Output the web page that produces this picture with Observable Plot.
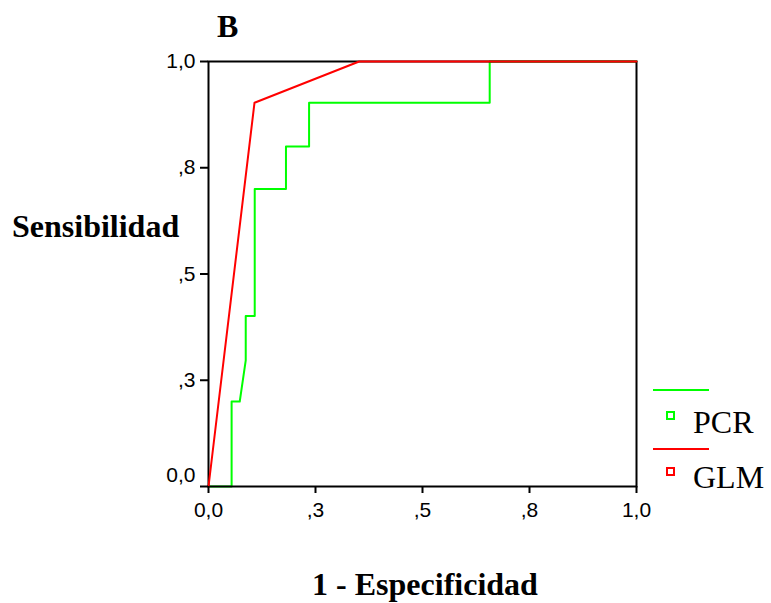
<!DOCTYPE html>
<html>
<head>
<meta charset="utf-8">
<script src="https://cdn.jsdelivr.net/npm/d3@7"></script>
<script src="https://cdn.jsdelivr.net/npm/@observablehq/plot@0.6"></script>
<style>
  html, body { margin: 0; padding: 0; background: #fff; }
  #chart { width: 771px; height: 603px; }
</style>
</head>
<body>
<div id="chart"></div>
<script>
// ROC data
const pcrFpr = [0, 0.054, 0.054, 0.073, 0.087, 0.087, 0.108, 0.108, 0.181, 0.181, 0.235, 0.235, 0.657, 0.657, 1];
const pcrTpr = [0, 0, 0.2, 0.2, 0.297, 0.401, 0.401, 0.70, 0.70, 0.80, 0.80, 0.903, 0.903, 1, 1];
const glmFpr = [0, 0.1075, 0.352, 1];
const glmTpr = [0, 0.903, 1, 1];

const seriesNames = ["PCR", "GLM"];
const seriesColors = ["#00ff00", "#ff0000"];

const tickValues = [0, 0.25, 0.5, 0.75, 1];
const tickLabels = ["0,0", ",3", ",5", ",8", "1,0"];

const title = "B";
const xLabel = "1 - Especificidad";
const yLabel = "Sensibilidad";

const pcrRows = pcrFpr.map((x, i) => ({series: "PCR", x, y: pcrTpr[i]}));
const glmRows = glmFpr.map((x, i) => ({series: "GLM", x, y: glmTpr[i]}));

const fmt = d => tickLabels[tickValues.indexOf(d)];
const tickFont = 21;

const svg = Plot.plot({
  width: 771,
  height: 603,
  marginLeft: 208,
  marginRight: 135,
  marginTop: 61,
  marginBottom: 117,
  style: {fontFamily: "'Liberation Sans', Arial, sans-serif", fontSize: "21px", color: "black", background: "white"},
  x: {domain: [0, 1]},
  y: {domain: [0, 1]},
  color: {domain: seriesNames, range: seriesColors},
  marks: [
    Plot.line(pcrRows, {x: "x", y: "y", stroke: "series", strokeWidth: 2}),
    Plot.frame({stroke: "black", strokeWidth: 2}),
    Plot.line(glmRows, {x: "x", y: "y", stroke: "series", strokeWidth: 2}),
    Plot.axisX(tickValues, {tickFormat: fmt, tickSize: 7, tickPadding: 9, strokeWidth: 2, fontSize: tickFont, label: null}),
    Plot.axisY(tickValues.slice(1), {tickFormat: fmt, tickSize: 8, tickPadding: 5, strokeWidth: 2, fontSize: tickFont, label: null}),
    Plot.axisY([0], {tickFormat: null, tickSize: 8, strokeWidth: 2, text: null, label: null}),
    Plot.axisY([0], {tickFormat: fmt, tickSize: 0, tickPadding: 13, dy: -11, fontSize: tickFont, label: null})
  ]
});

document.getElementById("chart").appendChild(svg);

const s = d3.select(svg);
const serif = "'Liberation Serif', 'Times New Roman', serif";

s.append("text").attr("x", 217).attr("y", 37).attr("text-anchor", "start")
  .attr("font-family", serif).attr("font-weight", "bold").attr("font-size", 32)
  .attr("fill", "black").text(title);

s.append("text").attr("x", 12).attr("y", 237).attr("text-anchor", "start")
  .attr("font-family", serif).attr("font-weight", "bold").attr("font-size", 32)
  .attr("fill", "black").text(yLabel);

s.append("text").attr("x", 425).attr("y", 595).attr("text-anchor", "middle")
  .attr("font-family", serif).attr("font-weight", "bold").attr("font-size", 32)
  .attr("fill", "black").text(xLabel);

// legend
const legendLineY = [390, 449];
const legendBoxY = [412, 468];
const legendTextY = [433, 488];
seriesNames.forEach((name, i) => {
  const g = s.append("g");
  g.append("line").attr("x1", 653).attr("x2", 709).attr("y1", legendLineY[i]).attr("y2", legendLineY[i])
    .attr("stroke", seriesColors[i]).attr("stroke-width", 2);
  g.append("rect").attr("x", 667).attr("y", legendBoxY[i]).attr("width", 7).attr("height", 7)
    .attr("fill", "none").attr("stroke", seriesColors[i]).attr("stroke-width", 2);
  g.append("text").attr("x", 693).attr("y", legendTextY[i]).attr("text-anchor", "start")
    .attr("font-family", serif).attr("font-size", 32).attr("fill", "black").text(name);
});
</script>
</body>
</html>
